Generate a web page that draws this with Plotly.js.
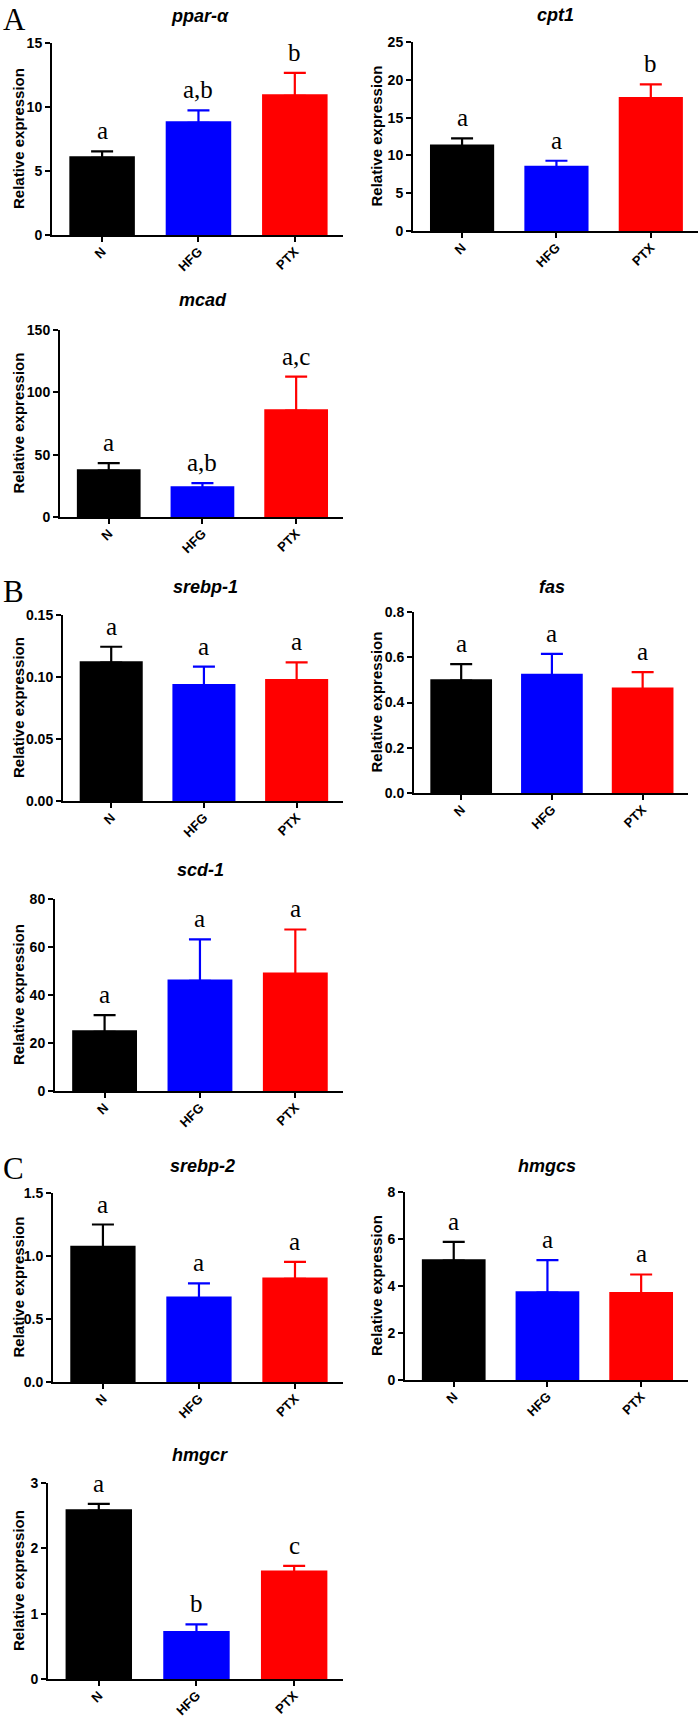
<!DOCTYPE html>
<html>
<head>
<meta charset="utf-8">
<script src="https://cdn.plot.ly/plotly-3.0.1.min.js"></script>
<style>
html,body{margin:0;padding:0;background:#fff;}
#chart{width:700px;height:1718px;}
</style>
</head>
<body>
<div id="chart"></div>
<script>
// ---------- data ----------
const groups = ['N', 'HFG', 'PTX'];
const genes = ['ppar-α', 'cpt1', 'mcad', 'srebp-1', 'fas', 'scd-1', 'srebp-2', 'hmgcs', 'hmgcr'];

const pparMean = [6.15, 8.88, 11.0];
const pparErr  = [0.39, 0.86, 1.66];
const pparSig  = ['a', 'a,b', 'b'];

const cpt1Mean = [11.44, 8.63, 17.74];
const cpt1Err  = [0.80, 0.66, 1.66];
const cpt1Sig  = ['a', 'a', 'b'];

const mcadMean = [38.4, 24.6, 86.5];
const mcadErr  = [4.8, 2.6, 26.1];
const mcadSig  = ['a', 'a,b', 'a,c'];

const srebp1Mean = [0.1128, 0.0943, 0.0983];
const srebp1Err  = [0.0116, 0.0140, 0.0135];
const srebp1Sig  = ['a', 'a', 'a'];

const fasMean = [0.503, 0.527, 0.466];
const fasErr  = [0.067, 0.088, 0.068];
const fasSig  = ['a', 'a', 'a'];

const scd1Mean = [25.3, 46.5, 49.4];
const scd1Err  = [6.3, 16.7, 17.9];
const scd1Sig  = ['a', 'a', 'a'];

const srebp2Mean = [1.081, 0.678, 0.830];
const srebp2Err  = [0.169, 0.105, 0.124];
const srebp2Sig  = ['a', 'a', 'a'];

const hmgcsMean = [5.14, 3.78, 3.75];
const hmgcsErr  = [0.74, 1.32, 0.74];
const hmgcsSig  = ['a', 'a', 'a'];

const hmgcrMean = [2.60, 0.736, 1.66];
const hmgcrErr  = [0.08, 0.10, 0.07];
const hmgcrSig  = ['a', 'b', 'c'];

const yMax   = [15, 25, 150, 0.15, 0.8, 80, 1.5, 8, 3];
const yDtick = [5, 5, 50, 0.05, 0.2, 20, 0.5, 2, 1];
const yFmt   = ['d', 'd', 'd', '.2f', '.1f', 'd', '.1f', 'd', 'd'];
const panelLetters = ['A', 'B', 'C'];

// ---------- styling / layout ----------
const colors = ['#000000', '#0000ff', '#ff0000'];
const W = 700, H = 1718;
// [left, right, top, bottom] in pixels for each plot area
const boxes = [
  [52, 343, 43, 235],
  [413, 698, 42, 231],
  [60, 343, 330, 517],
  [63, 343, 615, 801],
  [414, 688, 612, 793],
  [55, 343, 899, 1091],
  [53, 343, 1193, 1382],
  [405, 688, 1192, 1380],
  [48, 343, 1483, 1679]
];
const titlePos = [[200, 16], [555, 15], [203, 300], [205, 587], [552, 587], [200, 870], [202, 1166], [547, 1166], [200, 1455]];
const letterPos = [[1, 0], [1, 572], [1, 1149]];

const means = [pparMean, cpt1Mean, mcadMean, srebp1Mean, fasMean, scd1Mean, srebp2Mean, hmgcsMean, hmgcrMean];
const errs  = [pparErr, cpt1Err, mcadErr, srebp1Err, fasErr, scd1Err, srebp2Err, hmgcsErr, hmgcrErr];
const sigs  = [pparSig, cpt1Sig, mcadSig, srebp1Sig, fasSig, scd1Sig, srebp2Sig, hmgcsSig, hmgcrSig];

const sans = 'Liberation Sans, Arial, sans-serif';
const serif = 'Liberation Serif, Times New Roman, serif';

const traces = [];
const annotations = [];
const layout = {
  width: W, height: H,
  margin: {l: 0, r: 0, t: 0, b: 0},
  paper_bgcolor: '#fff', plot_bgcolor: '#fff',
  showlegend: false,
  barmode: 'overlay',
  annotations: annotations
};

for (let p = 0; p < genes.length; p++) {
  const n = p + 1;
  const xa = 'x' + (n === 1 ? '' : n);
  const ya = 'y' + (n === 1 ? '' : n);
  const [l, r, t, b] = boxes[p];
  const hideCap = yMax[p] * 0.008; // tuck the lower cap inside the bar
  for (let g = 0; g < groups.length; g++) {
    traces.push({
      type: 'bar',
      x: [groups[g]],
      y: [means[p][g]],
      width: 0.68,
      marker: {color: colors[g], line: {width: 0}},
      error_y: {
        type: 'data', symmetric: false,
        array: [errs[p][g]], arrayminus: [hideCap],
        color: colors[g], thickness: 2.2, width: 11
      },
      xaxis: xa, yaxis: ya,
      hoverinfo: 'skip'
    });
    annotations.push({
      xref: xa, yref: ya,
      x: groups[g], y: means[p][g] + errs[p][g],
      text: sigs[p][g],
      showarrow: false,
      yanchor: 'bottom', yshift: 5,
      font: {family: serif, size: 25, color: '#000'}
    });
  }
  layout['xaxis' + (n === 1 ? '' : n)] = {
    domain: [l / W, r / W],
    anchor: ya,
    type: 'category',
    categoryorder: 'array', categoryarray: groups,
    range: [-0.52, 2.5],
    showline: true, linecolor: '#000', linewidth: 2,
    ticks: 'outside', ticklen: 5, tickwidth: 2, tickcolor: '#000',
    tickangle: -45,
    ticklabelstandoff: -3,
    tickfont: {family: sans, size: 13, color: '#000', weight: 'bold'},
    showgrid: false, zeroline: false, fixedrange: true
  };
  layout['yaxis' + (n === 1 ? '' : n)] = {
    domain: [1 - b / H, 1 - t / H],
    anchor: xa,
    range: [0, yMax[p]],
    dtick: yDtick[p], tick0: 0,
    tickformat: yFmt[p],
    showline: true, linecolor: '#000', linewidth: 2,
    ticks: 'outside', ticklen: 5, tickwidth: 2, tickcolor: '#000',
    tickfont: {family: sans, size: 14, color: '#000', weight: 'bold'},
    showgrid: false, zeroline: false, fixedrange: true
  };
  // gene title
  annotations.push({
    xref: 'paper', yref: 'paper',
    x: titlePos[p][0] / W, y: 1 - titlePos[p][1] / H,
    xanchor: 'center', yanchor: 'middle',
    text: '<b><i>' + genes[p] + '</i></b>',
    showarrow: false,
    font: {family: sans, size: 18, color: '#000'}
  });
  // y axis title
  const yTitleX = (l < 300) ? 18 : 376;
  annotations.push({
    xref: 'paper', yref: 'paper',
    x: yTitleX / W, y: 1 - ((t + b) / 2) / H,
    xanchor: 'center', yanchor: 'middle',
    textangle: -90,
    text: '<b>Relative expression</b>',
    showarrow: false,
    font: {family: sans, size: 15, color: '#000'}
  });
}

for (let i = 0; i < panelLetters.length; i++) {
  annotations.push({
    xref: 'paper', yref: 'paper',
    x: letterPos[i][0] / W, y: 1 - letterPos[i][1] / H,
    xanchor: 'left', yanchor: 'top',
    text: panelLetters[i],
    showarrow: false,
    font: {family: serif, size: 31, color: '#000'}
  });
}

Plotly.newPlot('chart', traces, layout, {staticPlot: true, displayModeBar: false});
</script>
</body>
</html>
